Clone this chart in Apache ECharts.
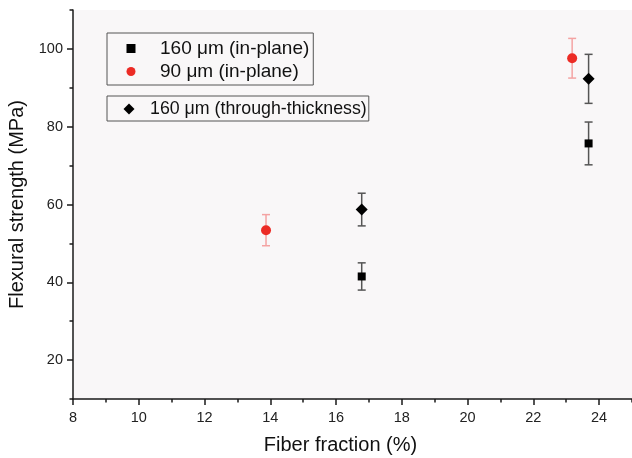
<!DOCTYPE html>
<html>
<head>
<meta charset="utf-8">
<script src="https://cdn.jsdelivr.net/npm/echarts@6/dist/echarts.min.js"></script>
<style>
  html, body { margin: 0; padding: 0; background: #fff; }
  #chart { width: 632px; height: 458px; }
</style>
</head>
<body>
<div id="chart"></div>
<script>
// fiber fraction (%), mean strength (MPa), error (MPa)
const inPlane160X = [16.78, 23.68]
const inPlane160Y = [41.5, 75.7]
const inPlane160Err = [3.5, 5.5]

const inPlane90X = [13.87, 23.18]
const inPlane90Y = [53.4, 97.6]
const inPlane90Err = [4.0, 5.1]

const through160X = [16.78, 23.68]
const through160Y = [58.7, 92.3]
const through160Err = [4.2, 6.3]

const xMajorTicks = [8, 10, 12, 14, 16, 18, 20, 22, 24]
const xMinorTicks = [9, 11, 13, 15, 17, 19, 21, 23, 25]
const yMajorTicks = [20, 40, 60, 80, 100]
const yMinorTicks = [10, 30, 50, 70, 90, 110]

const names = ["160 \u03bcm (in-plane)", "90 \u03bcm (in-plane)", "160 \u03bcm (through-thickness)"]

const font = "Liberation Sans, Arial, sans-serif"
const axisColor = "#1a1a1a"

function points(xs, ys) {
    return xs.map((x, i) => [x, ys[i]])
}

function bars(xs, ys, errs) {
    return xs.map((x, i) => [x, ys[i] - errs[i], ys[i] + errs[i]])
}

// vertical error bar with caps
function renderErrorBar(params, api) {
    const x = api.value(0)
    const lo = api.coord([x, api.value(1)])
    const hi = api.coord([x, api.value(2)])
    const half = 4
    const style = { stroke: api.visual("color"), lineWidth: 1.5 }
    return {
        type: "group",
        children: [
            { type: "line", shape: { x1: lo[0], y1: lo[1], x2: hi[0], y2: hi[1] }, style },
            { type: "line", shape: { x1: hi[0] - half, y1: hi[1], x2: hi[0] + half, y2: hi[1] }, style },
            { type: "line", shape: { x1: lo[0] - half, y1: lo[1], x2: lo[0] + half, y2: lo[1] }, style },
        ],
    }
}

function errorSeries(xs, ys, errs, color) {
    return {
        type: "custom",
        renderItem: renderErrorBar,
        itemStyle: { color },
        encode: { x: 0, y: [1, 2] },
        data: bars(xs, ys, errs),
        z: 1,
        silent: true,
    }
}

const chart = echarts.init(document.getElementById("chart"))

chart.setOption({
    animation: false,
    textStyle: { fontFamily: font },
    grid: {
        left: 73,
        right: 0,
        top: 10,
        bottom: 59,
        outerBoundsMode: "none",
        containLabel: false,
        show: true,
        backgroundColor: "#f9f7f8",
        borderWidth: 0,
    },
    legend: [
        {
            orient: "vertical",
            left: 107,
            top: 33,
            padding: [6, 4, 4, 19.5],
            itemGap: 4,
            itemWidth: 9,
            itemHeight: 9,
            borderColor: "#555",
            borderWidth: 1,
            textStyle: { fontSize: 19, color: "#111", padding: [0, 0, 0, 19.5] },
            data: [
                { name: names[0], icon: "rect" },
                { name: names[1], icon: "circle" },
            ],
        },
        {
            orient: "vertical",
            left: 107,
            top: 96,
            padding: [4, 2, 3, 16.5],
            itemWidth: 11,
            itemHeight: 11,
            borderColor: "#555",
            borderWidth: 1,
            textStyle: { fontSize: 17.8, color: "#111", padding: [0, 0, 0, 10.5] },
            data: [{ name: names[2], icon: "diamond" }],
        },
    ],
    xAxis: [
        {
            type: "value",
            min: 8,
            max: 25,
            name: "Fiber fraction (%)",
            nameLocation: "middle",
            nameGap: 36,
            nameTextStyle: { fontSize: 20, color: "#111", padding: [0, 24, 0, 0] },
            axisLine: { lineStyle: { color: axisColor, width: 1.5 } },
            axisTick: { customValues: xMajorTicks, length: 6, lineStyle: { color: axisColor, width: 1.5 } },
            axisLabel: { customValues: xMajorTicks, fontSize: 14.5, color: "#222", margin: 11 },
            splitLine: { show: false },
        },
        {
            type: "value",
            min: 8,
            max: 25,
            position: "bottom",
            axisLine: { show: false },
            axisTick: { customValues: xMinorTicks, length: 3.5, lineStyle: { color: axisColor, width: 1.5 } },
            axisLabel: { show: false },
            splitLine: { show: false },
        },
    ],
    yAxis: [
        {
            type: "value",
            min: 10,
            max: 110,
            name: "Flexural strength (MPa)",
            nameLocation: "middle",
            nameGap: 37,
            nameTextStyle: { fontSize: 20, color: "#111" },
            axisLine: { lineStyle: { color: axisColor, width: 1.5 } },
            axisTick: { customValues: yMajorTicks, length: 6, lineStyle: { color: axisColor, width: 1.5 } },
            axisLabel: { customValues: yMajorTicks, fontSize: 14.5, color: "#222", margin: 10 },
            splitLine: { show: false },
        },
        {
            type: "value",
            min: 10,
            max: 110,
            position: "left",
            axisLine: { show: false },
            axisTick: { customValues: yMinorTicks, length: 3.5, lineStyle: { color: axisColor, width: 1.5 } },
            axisLabel: { show: false },
            splitLine: { show: false },
        },
    ],
    series: [
        errorSeries(inPlane160X, inPlane160Y, inPlane160Err, "#555"),
        errorSeries(inPlane90X, inPlane90Y, inPlane90Err, "#f4a3a3"),
        errorSeries(through160X, through160Y, through160Err, "#555"),
        {
            name: names[0],
            type: "scatter",
            symbol: "rect",
            symbolSize: 8,
            itemStyle: { color: "#000", opacity: 1 },
            data: points(inPlane160X, inPlane160Y),
            z: 3,
        },
        {
            name: names[1],
            type: "scatter",
            symbol: "circle",
            symbolSize: 10,
            itemStyle: { color: "#ec2b25", opacity: 1 },
            data: points(inPlane90X, inPlane90Y),
            z: 3,
        },
        {
            name: names[2],
            type: "scatter",
            symbol: "diamond",
            symbolSize: 12,
            itemStyle: { color: "#000", opacity: 1 },
            data: points(through160X, through160Y),
            z: 3,
        },
    ],
})
</script>
</body>
</html>
